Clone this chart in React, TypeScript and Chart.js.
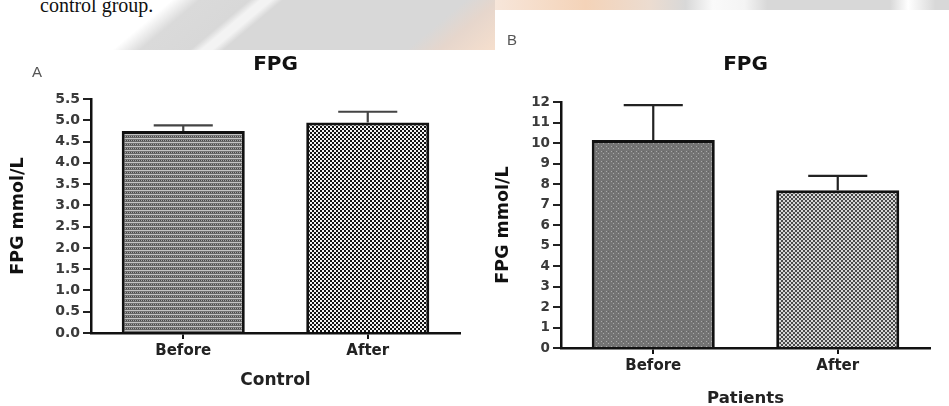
import React, { useEffect, useRef } from "react";
import { Chart, registerables } from "chart.js";

Chart.register(...registerables);

// ---------- data ----------
const categories = ["Before", "After"];
const controlMeans = [4.75, 4.95];
const controlErrors = [0.13, 0.25];
const patientMeans = [10.15, 7.7];
const patientErrors = [1.7, 0.7];
const controlAxis = { max: 5.5, step: 0.5, decimals: 1 };
const patientAxis = { max: 12, step: 1, decimals: 0 };
const chartTitle = "FPG";
const yAxisTitle = "FPG mmol/L";
const controlTitle = "Control";
const patientTitle = "Patients";

const FONT = "'DejaVu Sans', 'Liberation Sans', sans-serif";

type PatternKind = "stripeDots" | "checker" | "darkDots" | "grayChecker";

function makePattern(ctx: CanvasRenderingContext2D, kind: PatternKind): CanvasPattern | string {
  const c = document.createElement("canvas");
  const g = c.getContext("2d")!;
  if (kind === "stripeDots") {
    c.width = 4; c.height = 4;
    g.fillStyle = "#737373"; g.fillRect(0, 0, 4, 4);
    g.fillStyle = "#c4c4c4"; g.fillRect(0, 0, 4, 1);
    g.fillStyle = "#4a4a4a"; g.fillRect(0, 2, 1, 1); g.fillRect(2, 2, 1, 1);
    g.fillStyle = "#a4a4a4"; g.fillRect(1, 2, 1, 1); g.fillRect(3, 2, 1, 1);
    g.fillStyle = "#666666"; g.fillRect(0, 3, 4, 1);
  } else if (kind === "checker") {
    c.width = 4; c.height = 4;
    g.fillStyle = "#f2f2f2"; g.fillRect(0, 0, 4, 4);
    g.fillStyle = "#111111"; g.fillRect(0, 0, 2, 2); g.fillRect(2, 2, 2, 2);
  } else if (kind === "darkDots") {
    c.width = 5; c.height = 5;
    g.fillStyle = "#747474"; g.fillRect(0, 0, 5, 5);
    g.fillStyle = "#a8a8a8"; g.fillRect(1, 1, 1, 1); g.fillRect(3, 3, 1, 1);
    g.fillStyle = "#626262"; g.fillRect(3, 1, 1, 1);
  } else {
    c.width = 4; c.height = 4;
    g.fillStyle = "#d6d6d6"; g.fillRect(0, 0, 4, 4);
    g.fillStyle = "#4a4a4a"; g.fillRect(0, 0, 2, 2); g.fillRect(2, 2, 2, 2);
  }
  return ctx.createPattern(c, "repeat") || "#888";
}

const errorBarPlugin = {
  id: "errbars",
  afterDatasetsDraw(chart: any, _args: any, opts: any) {
    const errs: number[] = opts.errors || [];
    const ys = chart.scales.y;
    const ctx = chart.ctx as CanvasRenderingContext2D;
    const meta = chart.getDatasetMeta(0);
    const values = chart.data.datasets[0].data as number[];
    ctx.save();
    ctx.strokeStyle = opts.color || "#222";
    ctx.lineWidth = opts.width || 2;
    meta.data.forEach((bar: any, i: number) => {
      const p = bar.getProps(["x", "y", "width"], true);
      const top = ys.getPixelForValue(values[i] + errs[i]);
      const half = p.width * 0.24;
      ctx.beginPath();
      ctx.moveTo(p.x, p.y);
      ctx.lineTo(p.x, top);
      ctx.moveTo(p.x - half, top);
      ctx.lineTo(p.x + half, top);
      ctx.stroke();
    });
    ctx.restore();
  },
};

type Props = {
  width: number;
  height: number;
  means: number[];
  errors: number[];
  axis: { max: number; step: number; decimals: number };
  fills: PatternKind[];
  xTitle: string;
  yWidth: number;
  padRight: number;
  titlePad: { top: number; bottom: number };
  xHeight: number;
  xTitlePad: number;
  xTitleSize: number;
  xTitleLH: number;
  yTitlePad: number;
  tickSize: number;
  errColor: string;
};

function FPGChart(props: Props) {
  const ref = useRef<HTMLCanvasElement | null>(null);
  useEffect(() => {
    const canvas = ref.current!;
    const ctx = canvas.getContext("2d")!;
    const fills = props.fills.map((k) => makePattern(ctx, k));
    const chart = new Chart(canvas, {
      type: "bar",
      data: {
        labels: categories,
        datasets: [
          {
            data: props.means,
            backgroundColor: fills as any,
            borderColor: "#111",
            borderWidth: 3,
            barPercentage: 0.667,
            categoryPercentage: 1,
          },
        ],
      },
      plugins: [errorBarPlugin as any],
      options: {
        responsive: false,
        animation: false,
        devicePixelRatio: 1,
        layout: { padding: { left: 0, right: props.padRight, top: 0, bottom: 0 } },
        plugins: {
          legend: { display: false },
          tooltip: { enabled: false },
          title: {
            display: true,
            text: chartTitle,
            fullSize: false,
            color: "#111",
            font: { family: FONT, size: 20, weight: "bold", lineHeight: 1.2 },
            padding: props.titlePad,
          },
          errbars: { errors: props.errors, color: props.errColor, width: 2.2 },
        } as any,
        scales: {
          x: {
            offset: true,
            afterFit: (s: any) => { s.height = props.xHeight; },
            grid: {
              display: true,
              offset: false,
              drawOnChartArea: false,
              drawTicks: true,
              tickLength: 6,
              color: "#111",
              lineWidth: 2,
            },
            border: { display: true, color: "#111", width: 2.5 },
            ticks: {
              color: "#222",
              padding: 3,
              font: { family: FONT, size: 15, weight: "bold" },
            },
            title: {
              display: true,
              text: props.xTitle,
              color: "#222",
              padding: { top: 0, bottom: props.xTitlePad },
              font: { family: FONT, size: props.xTitleSize, weight: "bold", lineHeight: props.xTitleLH },
            },
          },
          y: {
            min: 0,
            max: props.axis.max,
            afterFit: (s: any) => { s.width = props.yWidth; },
            grid: {
              display: true,
              drawOnChartArea: false,
              drawTicks: true,
              tickLength: 8,
              color: "#222",
              lineWidth: 2,
            },
            border: { display: true, color: "#111", width: 2.5 },
            ticks: {
              stepSize: props.axis.step,
              color: "#3a3a3a",
              padding: 3,
              font: { family: FONT, size: props.tickSize, weight: "bold" },
              callback: (v: any) => Number(v).toFixed(props.axis.decimals),
            },
            title: {
              display: true,
              text: yAxisTitle,
              color: "#111",
              padding: { top: props.yTitlePad, bottom: 0 },
              font: { family: FONT, size: 17.5, weight: "bold", lineHeight: 1 },
            },
          },
        },
      },
    });
    return () => chart.destroy();
  }, []);
  return <canvas ref={ref} width={props.width} height={props.height} style={{ display: "block" }} />;
}

export default function App() {
  return (
    <div
      style={{
        position: "fixed",
        left: 0,
        top: 0,
        width: 949,
        height: 406,
        overflow: "hidden",
        background: "#ffffff",
      }}
    >
      {/* scanned page background (watermark band) */}
      <div
        style={{
          position: "absolute",
          left: 0,
          top: 0,
          width: 495,
          height: 50,
          background:
            "linear-gradient(140deg, #ffffff 0%, #ffffff 31%, #dadada 36%, #d8d8d8 45%, #f3f3f3 47%, #f3f3f3 49%, #d8d8d8 51%, #d8d8d8 84%, #e6d6cc 90%, #f6dfcd 100%)",
        }}
      />
      <div
        style={{
          position: "absolute",
          left: 495,
          top: 0,
          width: 454,
          height: 10,
          background:
            "linear-gradient(90deg, #f7e6da 0%, #f4d3b8 20%, #ecdcd0 34%, #d8d8d8 42%, #fafafa 48%, #f4f4f4 55%, #d8d8d8 60%, #d8d8d8 87%, #ffffff 91%, #d8d8d8 97%)",
        }}
      />
      <div
        style={{
          position: "absolute",
          left: 40,
          top: -5,
          fontFamily: "'Liberation Serif', 'Times New Roman', serif",
          fontSize: 20,
          lineHeight: "20px",
          color: "#111",
          whiteSpace: "nowrap",
        }}
      >
        control group.
      </div>

      {/* panel A */}
      <div style={{ position: "absolute", left: 0, top: 50, width: 495, height: 356, background: "#fff" }}>
        <FPGChart
          width={495}
          height={356}
          means={controlMeans}
          errors={controlErrors}
          axis={controlAxis}
          fills={["stripeDots", "checker"]}
          xTitle={controlTitle}
          yWidth={91}
          padRight={35}
          titlePad={{ top: 3, bottom: 22 }}
          xHeight={73}
          xTitlePad={15}
          xTitleSize={17}
          xTitleLH={1.2}
          yTitlePad={9.5}
          tickSize={14}
          errColor="#444"
        />
      </div>
      <div
        style={{
          position: "absolute",
          left: 32,
          top: 64,
          fontFamily: "'Liberation Sans', Arial, sans-serif",
          fontSize: 15,
          lineHeight: "16px",
          color: "#555",
        }}
      >
        A
      </div>

      {/* panel B */}
      <div style={{ position: "absolute", left: 495, top: 10, width: 454, height: 396, background: "#fff" }}>
        <FPGChart
          width={454}
          height={396}
          means={patientMeans}
          errors={patientErrors}
          axis={patientAxis}
          fills={["darkDots", "grayChecker"]}
          xTitle={patientTitle}
          yWidth={66}
          padRight={19}
          titlePad={{ top: 43, bottom: 25 }}
          xHeight={58}
          xTitlePad={0}
          xTitleSize={16.5}
          xTitleLH={0.9}
          yTitlePad={0}
          tickSize={13.5}
          errColor="#222"
        />
      </div>
      <div
        style={{
          position: "absolute",
          left: 507,
          top: 32,
          fontFamily: "'Liberation Sans', Arial, sans-serif",
          fontSize: 15,
          lineHeight: "16px",
          color: "#555",
        }}
      >
        B
      </div>
    </div>
  );
}
